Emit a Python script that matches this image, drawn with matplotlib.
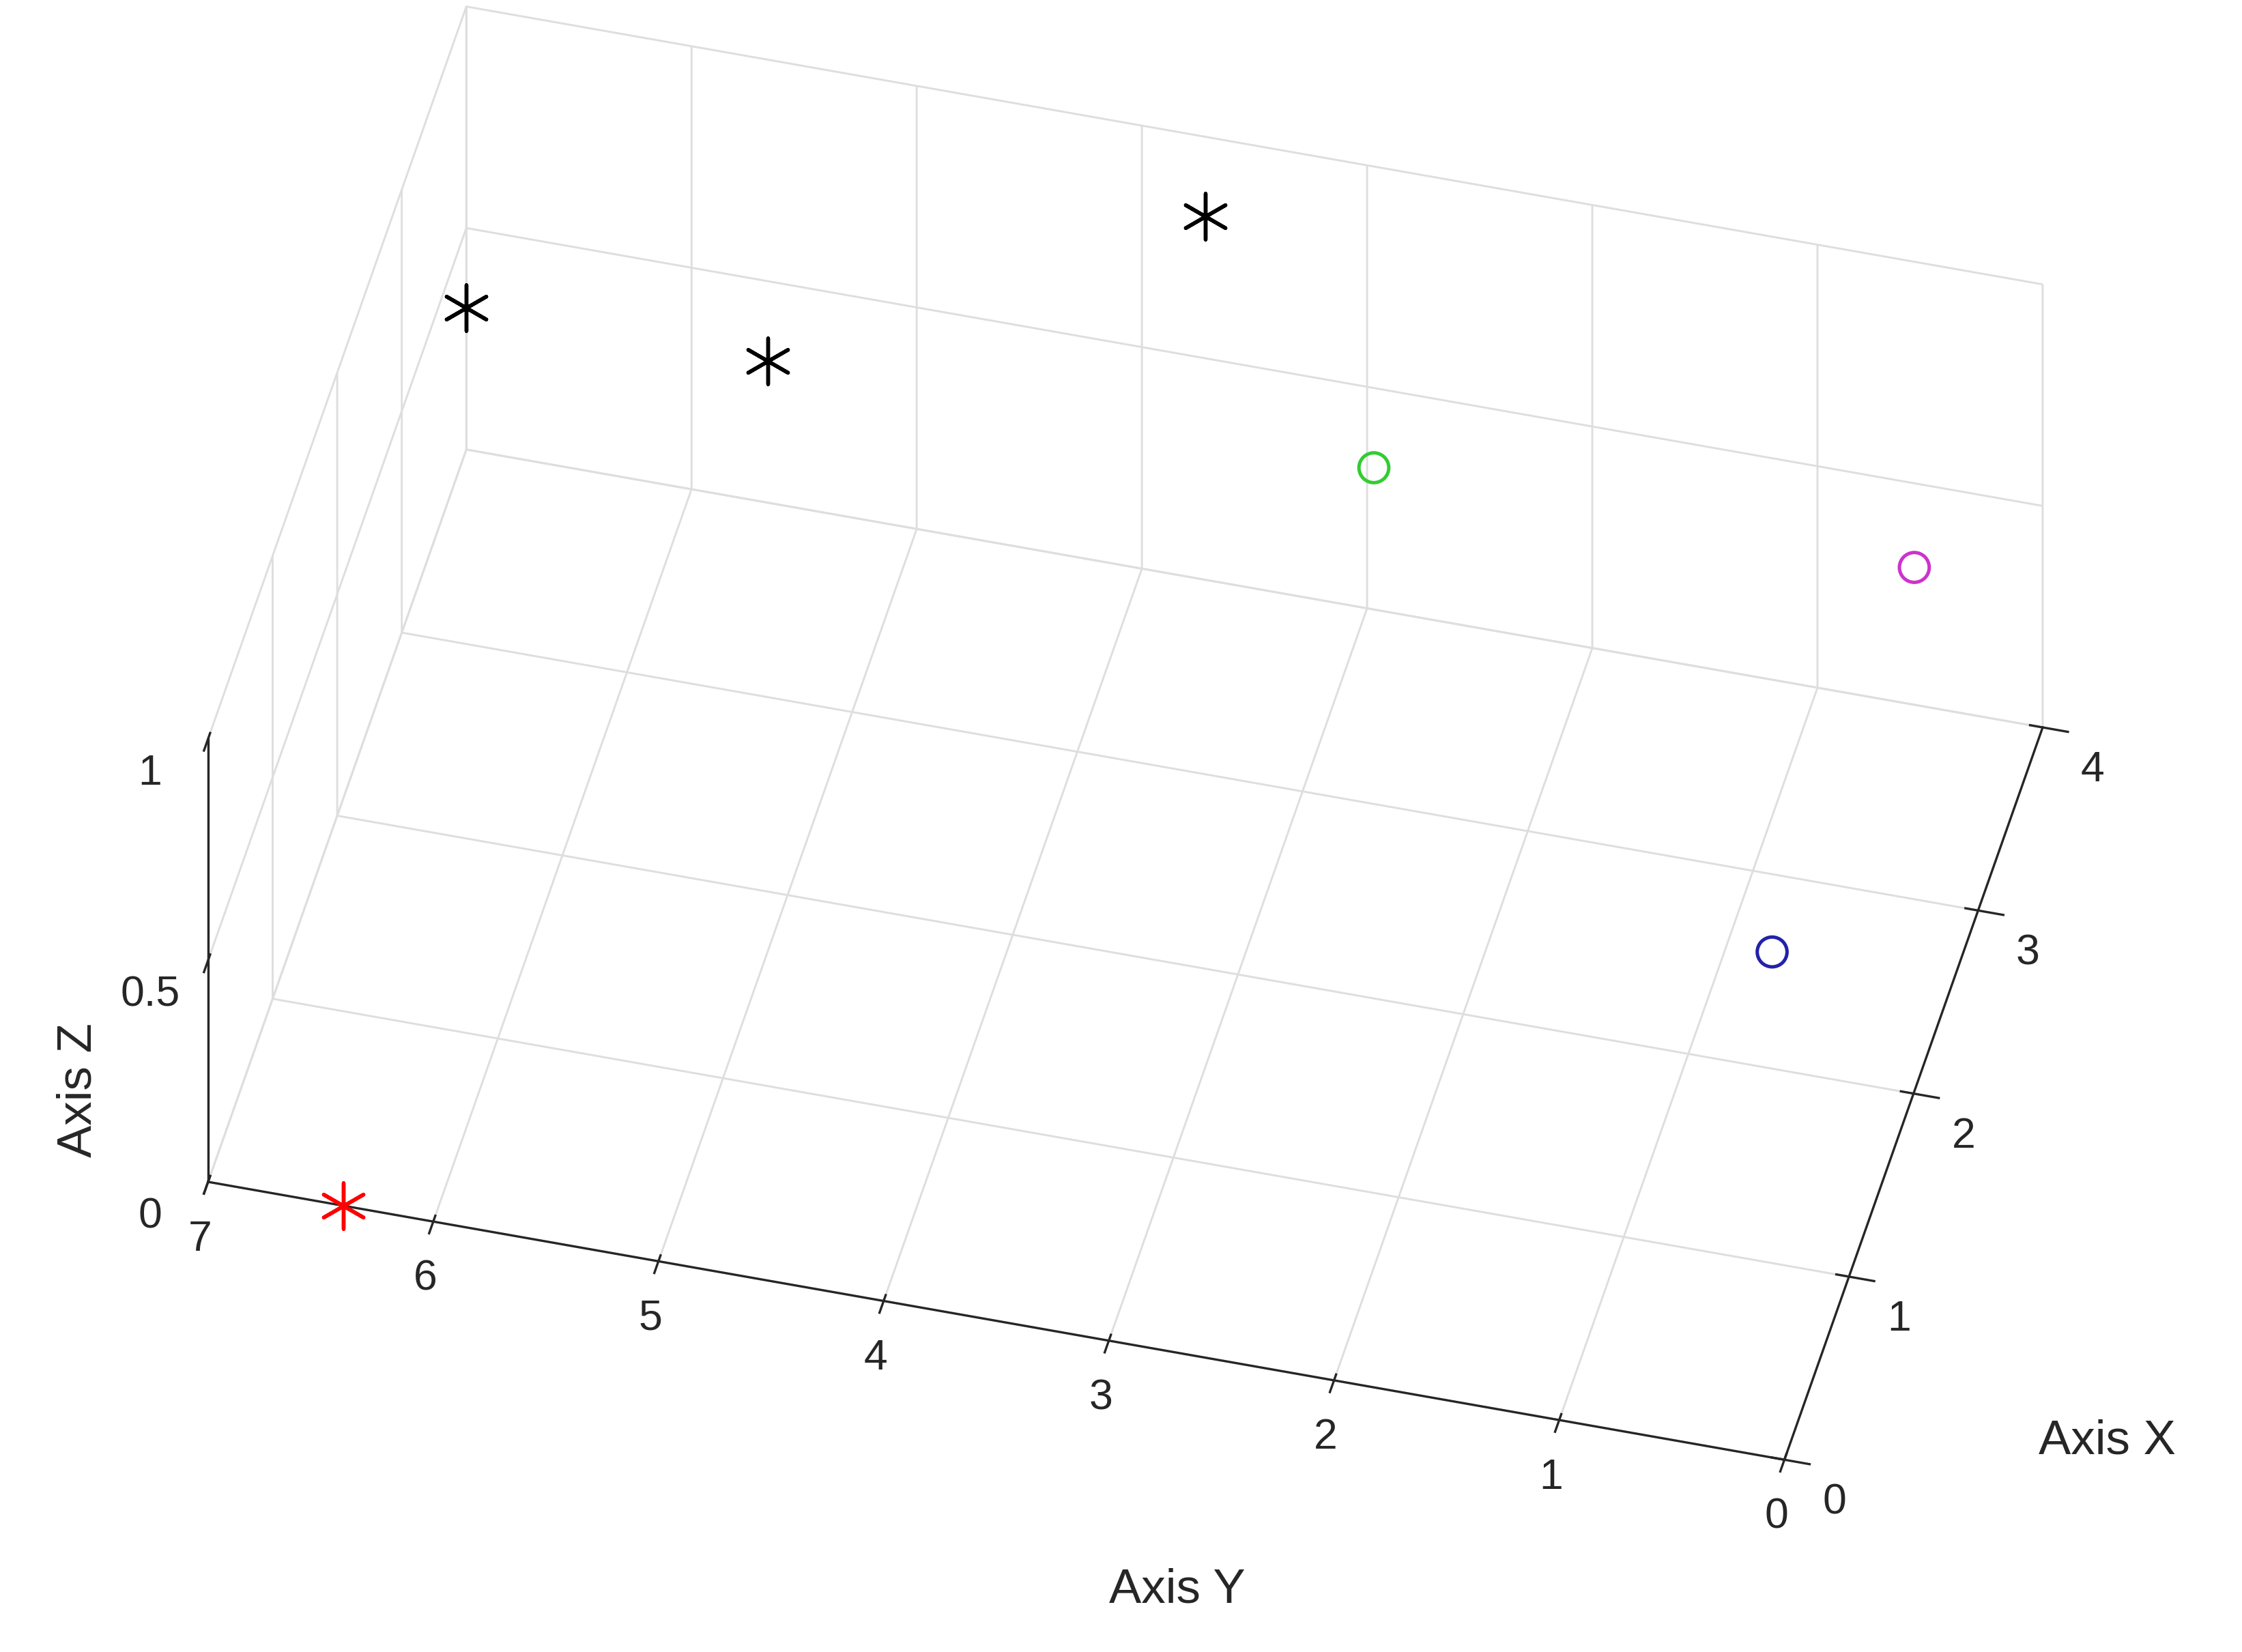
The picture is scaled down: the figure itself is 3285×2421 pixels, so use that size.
import matplotlib
matplotlib.use("Agg")
import matplotlib.pyplot as plt

plt.rcParams['font.family'] = ['Liberation Sans', 'DejaVu Sans']

# black stars
star_x = [4, 4, 4]
star_y = [7.0, 5.66, 3.72]
star_z = [0.32, 0.32, 0.82]
# red star
red_x, red_y, red_z = [0], [6.4], [0]
# circles
circ_x = [4, 4, 2.6]
circ_y = [2.97, 0.57, 0.8]
circ_z = [0.32, 0.31, 0.0]
circ_c = ['#33cc33', '#cc33cc', '#2222aa']

fig = plt.figure(figsize=(10.95, 8.07), dpi=300)
ax = fig.add_axes([-0.06, -0.06, 1.1, 1.2], projection='3d', proj_type='ortho')

ax.scatter(star_x, star_y, star_z, marker=(6, 2, 0), s=260, c='k', linewidths=1.3, depthshade=False)
ax.scatter(red_x, red_y, red_z, marker=(6, 2, 0), s=260, c='r', linewidths=1.3, depthshade=False)
ax.scatter(circ_x, circ_y, circ_z, marker='o', s=110, facecolors='none', edgecolors=circ_c,
           linewidths=1.2, depthshade=False)

ax.set_xlim(0, 4)
ax.set_ylim(0, 7)
ax.set_zlim(0, 1)
ax.set_xticks([0, 1, 2, 3, 4])
ax.set_yticks(range(8))
ax.set_zticks([0, 0.5, 1])
ax.set_zticklabels(['0', '0.5', '1'])
ax.tick_params(labelsize=15, colors='#262626')
ax.set_box_aspect((4.6, 7, 2.7))
ax.view_init(elev=45, azim=-166)

for a in (ax.xaxis, ax.yaxis, ax.zaxis):
    a.set_pane_color((1, 1, 1, 0))
    a.pane.set_edgecolor('#dddddd')
    a._axinfo['grid']['color'] = '#dedede'
    a._axinfo['grid']['linewidth'] = 0.7
    a.line.set_color('#262626')

fig.text(0.94, 0.12, 'Axis X', fontsize=17, ha='center', color='#262626')
fig.text(0.525, 0.03, 'Axis Y', fontsize=17, ha='center', color='#262626')
fig.text(0.025, 0.34, 'Axis Z', fontsize=17, va='center', rotation=90, color='#262626')

fig.savefig('out.png', dpi=300)
